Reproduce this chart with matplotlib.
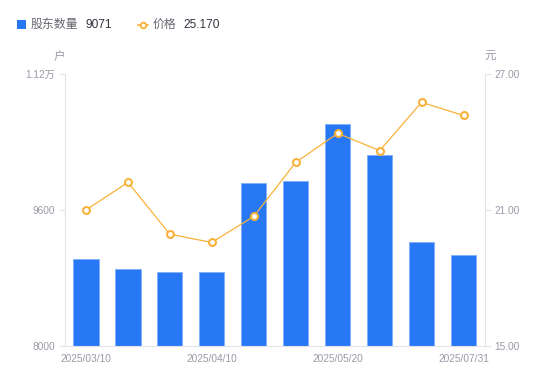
import matplotlib
matplotlib.use("Agg")
import matplotlib.pyplot as plt
from matplotlib.lines import Line2D
from matplotlib.patches import Rectangle

FAM = ['Liberation Sans', 'Noto Sans CJK SC', 'DejaVu Sans']
plt.rcParams['font.family'] = FAM

dates = ['2025/03/10', '2025/03/20', '2025/03/31', '2025/04/10', '2025/04/18',
         '2025/04/30', '2025/05/20', '2025/06/10', '2025/06/30', '2025/07/31']
holders = [9024, 8906, 8871, 8871, 9914, 9945, 10608, 10244, 9227, 9071]
price = [21.00, 22.22, 19.93, 19.57, 20.72, 23.10, 24.38, 23.62, 25.75, 25.17]
shown_ticks = [0, 3, 6, 9]

left_ticks = [8000, 9600, 11200]
left_labels = ['8000', '9600', '1.12万']
right_ticks = [15, 21, 27]
right_labels = ['15.00', '21.00', '27.00']

BLUE = '#2878F5'
ORANGE = '#F8B23C'
AXC = '#E3E3E8'
TXT = '#9A9AA8'

W, H = 550, 381
fig = plt.figure(figsize=(W / 100, H / 100), dpi=100)
ax = fig.add_axes([65 / W, 35 / H, (484.5 - 65) / W, (346 - 74) / H])
ax2 = ax.twinx()

x = list(range(len(dates)))
ax.bar(x, holders, width=0.6, color=BLUE, edgecolor='#7FAEFA', linewidth=0.6, zorder=2)
ax.set_xlim(-0.5, len(dates) - 0.5)
ax.set_ylim(8000, 11200)
ax.set_yticks(left_ticks)
ax.set_yticklabels(left_labels)
ax.set_xticks(shown_ticks)
ax.set_xticklabels([dates[i] for i in shown_ticks])

ax2.plot(x, price, color=ORANGE, linewidth=0.9, marker='o', markersize=5,
         markerfacecolor='white', markeredgecolor=ORANGE, markeredgewidth=1.5, zorder=3)
ax2.set_ylim(15, 27)
ax2.set_yticks(right_ticks)
ax2.set_yticklabels(right_labels)

for a in (ax, ax2):
    for s in a.spines.values():
        s.set_visible(False)
    a.tick_params(colors=AXC, labelcolor=TXT, labelsize=7.3, length=4, width=0.8)
ax.spines['left'].set_visible(True)
ax.spines['left'].set_color(AXC)
ax.spines['bottom'].set_visible(True)
ax.spines['bottom'].set_color(AXC)
ax2.spines['right'].set_visible(True)
ax2.spines['right'].set_color(AXC)
ax.tick_params(axis='x', length=0, pad=6)
ax.tick_params(axis='y', pad=3)
ax2.tick_params(axis='y', pad=3)

# axis unit titles
fig.text(59 / W, 1 - 57 / H, '户', color=TXT, fontsize=8.3, ha='center', va='center', family=FAM)
fig.text(490 / W, 1 - 57 / H, '元', color=TXT, fontsize=8.3, ha='center', va='center', family=FAM)

# legend
fig.patches.append(Rectangle((17 / W, 1 - 29 / H), 9 / W, 9 / H, transform=fig.transFigure,
                             facecolor=BLUE, edgecolor='none', figure=fig))
fig.text(31 / W, 1 - 24.5 / H, '股东数量', color='#666670', fontsize=8.6, va='center', family=FAM)
fig.text(85 / W, 1 - 24.5 / H, '9071', color='#333340', fontsize=8.6, va='center', family=FAM)
fig.add_artist(Line2D([138 / W, 148 / W], [1 - 24.5 / H, 1 - 24.5 / H], transform=fig.transFigure,
                      color=ORANGE, linewidth=1.2))
fig.add_artist(Line2D([143 / W], [1 - 24.5 / H], transform=fig.transFigure, marker='o',
                      markersize=4, markerfacecolor='white', markeredgecolor=ORANGE,
                      markeredgewidth=1.4))
fig.text(153 / W, 1 - 24.5 / H, '价格', color='#666670', fontsize=8.6, va='center', family=FAM)
fig.text(183 / W, 1 - 24.5 / H, '25.170', color='#333340', fontsize=8.6, va='center', family=FAM)

fig.savefig('out.png', dpi=100)
